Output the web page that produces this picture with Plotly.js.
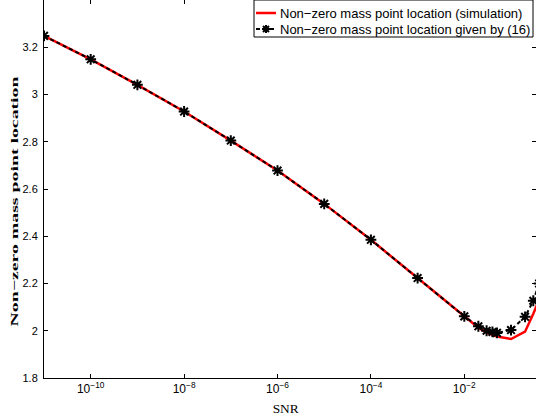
<!DOCTYPE html>
<html>
<head>
<meta charset="utf-8">
<script src="https://cdn.plot.ly/plotly-3.0.1.min.js"></script>
<style>html,body{margin:0;padding:0;background:#fff;}</style>
</head>
<body>
<div id="chart" style="width:536px;height:415px;"></div>
<script>
// SNR values (linear)
const snr = [1e-11, 1e-10, 1e-9, 1e-8, 1e-7, 1e-6, 1e-5, 1e-4, 1e-3, 1e-2, 0.02, 0.03, 0.04, 0.05, 0.1, 0.2, 0.3, 0.4];
// Non-zero mass point location (simulation)
const simulation = [3.248, 3.149, 3.041, 2.928, 2.805, 2.678, 2.537, 2.385, 2.223, 2.059, 2.013, 1.992, 1.983, 1.976, 1.965, 1.996, 2.072, 2.131];
// Non-zero mass point location given by (16)
const formula16 = [3.248, 3.149, 3.041, 2.928, 2.805, 2.678, 2.537, 2.385, 2.223, 2.061, 2.019, 2.000, 1.995, 1.991, 2.003, 2.059, 2.127, 2.200];

const seriesNames = ['Non−zero mass point location (simulation)', 'Non−zero mass point location given by (16)'];
const xTickVals = [1e-10, 1e-8, 1e-6, 1e-4, 1e-2];
const xTickText = ['10<sup>−10</sup>', '10<sup>−8</sup>', '10<sup>−6</sup>', '10<sup>−4</sup>', '10<sup>−2</sup>'];
const yTickVals = [1.8, 2, 2.2, 2.4, 2.6, 2.8, 3, 3.2];
const yTickText = ['1.8', '2', '2.2', '2.4', '2.6', '2.8', '3', '3.2'];

// plot-area geometry (pixels) for paper-coordinate helpers
const L = 44, T = 0, W = 492, H = 378;
const px = function (x) { return (x - L) / W; };
const py = function (y) { return (H - (y - T)) / H; };

const traces = [
  {
    x: snr, y: simulation, type: 'scatter', mode: 'lines',
    name: seriesNames[0], showlegend: false,
    line: {color: '#ff0000', width: 2.5}
  },
  {
    x: snr, y: formula16, type: 'scatter', mode: 'lines+markers',
    name: seriesNames[1], showlegend: false,
    line: {color: '#000000', width: 2, dash: '4px,3px'},
    marker: {symbol: 'asterisk-open', size: 9, color: '#000000', line: {color: '#000000', width: 2}}
  }
];

const axisCommon = {
  showline: true, linecolor: '#000', linewidth: 1, mirror: 'ticks',
  ticks: 'inside', ticklen: 4, tickcolor: '#000', tickwidth: 1,
  showgrid: false, zeroline: false,
  tickfont: {family: 'Liberation Sans, Arial, sans-serif', size: 11, color: '#000'}
};

// legend geometry (pixels)
const lgX0 = 254, lgX1 = 533, lgY0 = 0, lgY1 = 37;
const rowY = [13, 29];
const sx0 = 256, sx1 = 276, sxm = 266, tx = 278;
const s = 4, d = 3;
const starPath = 'M' + px(sxm - s) + ',' + py(rowY[1]) + ' L' + px(sxm + s) + ',' + py(rowY[1]) +
  ' M' + px(sxm) + ',' + py(rowY[1] - s) + ' L' + px(sxm) + ',' + py(rowY[1] + s) +
  ' M' + px(sxm - d) + ',' + py(rowY[1] - d) + ' L' + px(sxm + d) + ',' + py(rowY[1] + d) +
  ' M' + px(sxm - d) + ',' + py(rowY[1] + d) + ' L' + px(sxm + d) + ',' + py(rowY[1] - d);

const legendFont = {family: 'Liberation Sans, Arial, sans-serif', size: 13, color: '#000'};

const layout = {
  width: 536, height: 415,
  margin: {l: 44, r: 0, t: 0, b: 37},
  paper_bgcolor: '#fff', plot_bgcolor: '#fff',
  showlegend: false,
  xaxis: Object.assign({}, axisCommon, {
    type: 'log', range: [-11, -0.465],
    tickmode: 'array', tickvals: xTickVals, ticktext: xTickText,
    tickfont: {family: 'Liberation Sans, Arial, sans-serif', size: 12, color: '#000'}
  }),
  yaxis: Object.assign({}, axisCommon, {
    range: [1.8, 3.4],
    tickmode: 'array', tickvals: yTickVals, ticktext: yTickText,
    ticklabelstandoff: 3
  }),
  shapes: [
    {type: 'rect', xref: 'paper', yref: 'paper', x0: px(lgX0), x1: px(lgX1), y0: py(lgY1), y1: py(lgY0),
     line: {color: '#000', width: 1}, fillcolor: '#fff', layer: 'above'},
    {type: 'line', xref: 'paper', yref: 'paper', x0: px(sx0), x1: px(sx1), y0: py(rowY[0]), y1: py(rowY[0]),
     line: {color: '#ff0000', width: 2.5}, layer: 'above'},
    {type: 'line', xref: 'paper', yref: 'paper', x0: px(sx0), x1: px(sx1), y0: py(rowY[1]), y1: py(rowY[1]),
     line: {color: '#000', width: 2, dash: '4px,3px'}, layer: 'above'},
    {type: 'path', xref: 'paper', yref: 'paper', path: starPath,
     line: {color: '#000', width: 2}, layer: 'above'}
  ],
  annotations: [
    {
      text: '<b>Non−zero mass point location</b>', textangle: -90,
      xref: 'paper', yref: 'paper', x: px(14), y: py(202),
      xanchor: 'center', yanchor: 'middle', showarrow: false,
      font: {family: 'Liberation Serif, Times New Roman, serif', size: 11, color: '#000'}
    },
    {
      text: 'SNR',
      xref: 'paper', yref: 'paper', x: px(285), y: py(409),
      xanchor: 'center', yanchor: 'middle', showarrow: false,
      font: {family: 'Liberation Serif, Times New Roman, serif', size: 12, color: '#000'}
    },
    {
      text: seriesNames[0], xref: 'paper', yref: 'paper', x: px(tx), y: py(rowY[0]),
      xanchor: 'left', yanchor: 'middle', showarrow: false, font: legendFont
    },
    {
      text: seriesNames[1], xref: 'paper', yref: 'paper', x: px(tx), y: py(rowY[1]),
      xanchor: 'left', yanchor: 'middle', showarrow: false, font: legendFont
    }
  ]
};

Plotly.newPlot('chart', traces, layout, {displayModeBar: false, staticPlot: true}).then(function () {
  const texts = document.querySelectorAll('#chart .annotation-text');
  texts.forEach(function (t) {
    if (t.textContent.indexOf('Non−zero mass point location') === 0 && t.textContent.length < 30) {
      t.setAttribute('textLength', '250');
      t.setAttribute('lengthAdjust', 'spacingAndGlyphs');
    } else if (t.textContent === 'SNR') {
      t.setAttribute('textLength', '26');
      t.setAttribute('lengthAdjust', 'spacingAndGlyphs');
    }
  });
});
</script>
</body>
</html>
